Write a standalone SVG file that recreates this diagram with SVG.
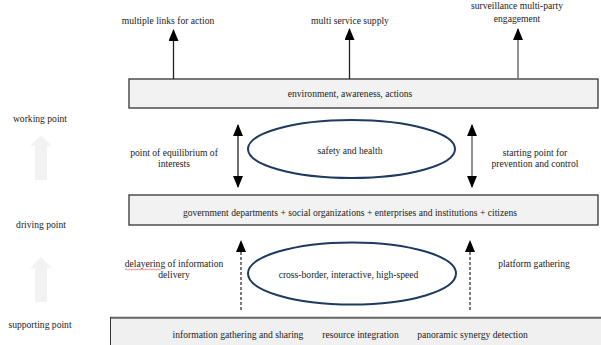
<svg xmlns="http://www.w3.org/2000/svg" width="601" height="345" viewBox="0 0 601 345">
<style>
text{font-family:"Liberation Serif","Times New Roman",serif;font-size:9.6px;fill:#222;text-anchor:middle}
.box{fill:#f2f2f2;stroke:#333;stroke-width:1.3}
.ell{fill:#fff;stroke:#1f3a5f;stroke-width:2}
.ln{stroke:#222;stroke-width:1.3;fill:none}
.lg{stroke:#777;stroke-width:1.6;fill:none}
.dash{stroke:#222;stroke-width:1.2;fill:none;stroke-dasharray:3,2}
.big{fill:#f2f2f2}
</style>
<defs>
<marker id="ah" viewBox="0 0 12 10" refX="11" refY="5" markerWidth="12" markerHeight="10" markerUnits="userSpaceOnUse" orient="auto-start-reverse">
<path d="M0,0 L12,5 L0,10 Z" fill="#000"/>
</marker>
</defs>
<g id="levels">
<text x="40" y="122">working point</text>
<text x="41" y="228">driving point</text>
<text x="40" y="328">supporting point</text>
<path class="big" d="M41,135 L52,146 L47,146 L47,180 L35,180 L35,146 L30,146 Z"/>
<path class="big" d="M41,257 L52,268 L47,268 L47,302 L35,302 L35,268 L30,268 Z"/>
</g>
<g id="top-labels">
<text x="168" y="24">multiple links for action</text>
<text x="350" y="24">multi service supply</text>
<text x="517" y="9">surveillance multi-party</text>
<text x="517" y="22">engagement</text>
</g>
<g id="box-environment">
<rect class="box" x="129" y="79" width="469" height="29"/>
<text x="350" y="97">environment, awareness, actions</text>
</g>
<g id="ellipse-safety">
<ellipse class="ell" cx="351.5" cy="149" rx="103.5" ry="29"/>
<text x="350" y="154">safety and health</text>
</g>
<g id="box-government">
<rect class="box" x="129" y="195" width="469" height="30"/>
<text x="350" y="216">government departments + social organizations + enterprises and institutions + citizens</text>
</g>
<g id="ellipse-cross">
<ellipse class="ell" cx="352" cy="273.5" rx="104" ry="31"/>
<text x="348.5" y="278">cross-border, interactive, high-speed</text>
</g>
<g id="box-supporting">
<rect x="110" y="318" width="491" height="27" fill="#f0f0f0"/>
<line x1="110" y1="317.8" x2="601" y2="317.8" stroke="#666" stroke-width="2"/>
<line x1="110.5" y1="317" x2="110.5" y2="345" stroke="#333" stroke-width="1"/>
<text x="238" y="338">information gathering and sharing</text>
<text x="360.5" y="338">resource integration</text>
<text x="472.5" y="338">panoramic synergy detection</text>
</g>
<g id="side-labels">
<text x="174" y="156">point of equilibrium of</text>
<text x="174" y="167">interests</text>
<text x="535" y="156">starting point for</text>
<text x="535" y="167">prevention and control</text>
<text x="174" y="267">delayering of information</text>
<text x="174" y="278">delivery</text>
<path d="M125,269.5 q1,-1 2,0 t2,0 t2,0 t2,0 t2,0 t2,0 t2,0 t2,0 t2,0 t2,0 t2,0 t2,0 t2,0 t2,0 t2,0 t2,0 t2,0 t2,0" fill="none" stroke="#e04040" stroke-width="0.6"/>
<text x="534" y="267">platform gathering</text>
</g>
<g id="connectors">
<line class="ln" x1="173.5" y1="79" x2="173.5" y2="30" marker-end="url(#ah)"/>
<line class="ln" x1="349.5" y1="79" x2="349.5" y2="29" marker-end="url(#ah)"/>
<line class="lg" x1="518" y1="79" x2="518" y2="29" marker-end="url(#ah)"/>
<line class="ln" x1="238" y1="125" x2="238" y2="187" marker-start="url(#ah)" marker-end="url(#ah)"/>
<line class="lg" x1="472" y1="125" x2="472" y2="187" marker-start="url(#ah)" marker-end="url(#ah)"/>
<line class="dash" x1="241" y1="310" x2="241" y2="241" marker-end="url(#ah)"/>
<line class="dash" x1="470" y1="310" x2="470" y2="241" marker-end="url(#ah)"/>
</g>
</svg>
